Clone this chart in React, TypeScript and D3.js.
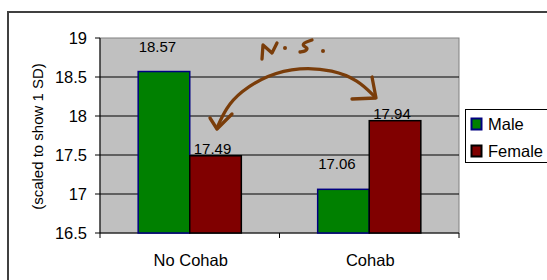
import React from "react";
import * as d3 from "d3";

// Data
const categories = ["No Cohab", "Cohab"];
const seriesNames = ["Male", "Female"];
const maleValues = [18.57, 17.06];
const femaleValues = [17.49, 17.94];
const yTicks = [16.5, 17, 17.5, 18, 18.5, 19];

const seriesColors = ["#008000", "#800000"];
const seriesStrokes = ["#000080", "#000000"];
// label nudges (Excel places them a bit oddly)
const labelDx = [-6.5, -3];
const labelDy = [-20, -2];

const font = "'Liberation Sans', Arial, sans-serif";

const App = () => {
  const width = 547;
  const height = 280;
  const plot = { left: 100, top: 38, right: 459, bottom: 233 };

  const x0 = d3.scaleBand().domain(categories).range([plot.left, plot.right]);
  const x1 = d3
    .scaleBand()
    .domain(seriesNames)
    .range([0, x0.bandwidth()])
    .paddingOuter(0.74)
    .paddingInner(0);
  const y = d3.scaleLinear().domain([16.5, 19]).range([plot.bottom, plot.top]);

  const series = [maleValues, femaleValues];

  // hand drawn arrow & "N.S."
  const curve = d3.line().curve(d3.curveBasis);
  const arc: [number, number][] = [
    [217, 128], [226, 108], [240, 92], [267, 75], [300, 67], [333, 70], [358, 80], [375, 97],
  ];
  const leftHead: [number, number][] = [[210, 118], [217, 129], [232, 114]];
  const rightHead: [number, number][] = [[372, 77], [376, 98], [352, 99]];
  const nStroke: [number, number][] = [[262, 59], [263, 45], [272, 53], [277, 43]];
  const sStroke: [number, number][] = [[312, 40], [303, 43], [303, 46], [308, 48], [306, 51], [300, 52]];
  const brown = "#7a3d0a";

  return (
    <svg
      width={width}
      height={height}
      style={{ position: "absolute", left: 0, top: 0, background: "#fff" }}
      fontFamily={font}
    >
      <rect x={8} y={12} width={width} height={height} fill="#fff" stroke="#404040" strokeWidth={2} />
      <rect
        x={plot.left}
        y={plot.top}
        width={plot.right - plot.left}
        height={plot.bottom - plot.top}
        fill="#c0c0c0"
        stroke="#808080"
        strokeWidth={1}
      />
      {yTicks.slice(1, -1).map((t) => (
        <line key={t} x1={plot.left} x2={plot.right} y1={y(t)} y2={y(t)} stroke="#000" strokeWidth={1} />
      ))}
      {/* y axis */}
      <line x1={plot.left} x2={plot.left} y1={plot.top} y2={plot.bottom} stroke="#000" />
      {yTicks.map((t) => (
        <g key={t}>
          <line x1={plot.left - 5} x2={plot.left} y1={y(t)} y2={y(t)} stroke="#000" />
          <text x={87} y={y(t) + 6} textAnchor="end" fontSize={16.5}>
            {t}
          </text>
        </g>
      ))}
      <text
        transform={`translate(43,${(plot.top + plot.bottom) / 2 + 1}) rotate(-90)`}
        textAnchor="middle"
        fontSize={15}
      >
        (scaled to show 1 SD)
      </text>
      {/* x axis */}
      <line x1={plot.left} x2={plot.right} y1={plot.bottom} y2={plot.bottom} stroke="#000" />
      {[plot.left, plot.left + x0.bandwidth(), plot.right].map((px) => (
        <line key={px} x1={px} x2={px} y1={plot.bottom} y2={plot.bottom + 5} stroke="#000" />
      ))}
      {categories.map((c) => (
        <text key={c} x={x0(c)! + x0.bandwidth() / 2 + 1} y={266} textAnchor="middle" fontSize={16.5}>
          {c}
        </text>
      ))}
      {/* bars */}
      {categories.map((c, ci) =>
        seriesNames.map((s, si) => {
          const v = series[si][ci];
          const bx = x0(c)! + x1(s)!;
          return (
            <rect
              key={c + s}
              x={bx}
              y={y(v)}
              width={x1.bandwidth()}
              height={plot.bottom - y(v)}
              fill={seriesColors[si]}
              stroke={seriesStrokes[si]}
              strokeWidth={1.5}
            />
          );
        })
      )}
      {categories.map((c, ci) =>
        seriesNames.map((s, si) => {
          const v = series[si][ci];
          const bx = x0(c)! + x1(s)! + x1.bandwidth() / 2;
          return (
            <text
              key={"l" + c + s}
              x={bx + labelDx[si]}
              y={y(v) + labelDy[si]}
              textAnchor="middle"
              fontSize={15}
            >
              {v.toFixed(2)}
            </text>
          );
        })
      )}
      {/* legend */}
      <rect x={465.5} y={109.5} width={100} height={53} fill="#fff" stroke="#000" strokeWidth={1} />
      {seriesNames.map((s, si) => (
        <g key={s} transform={`translate(471,${118 + si * 27})`}>
          <rect x={0.5} y={0.5} width={10} height={11} fill={seriesColors[si]} stroke={seriesStrokes[si]} strokeWidth={2} />
          <text x={17} y={11.5} fontSize={16.5}>
            {s}
          </text>
        </g>
      ))}
      {/* hand-drawn annotation */}
      <g fill="none" stroke={brown} strokeWidth={3.3} strokeLinecap="round" strokeLinejoin="round">
        <path d={curve(arc)!} />
        <path d={d3.line()(leftHead)!} />
        <path d={d3.line()(rightHead)!} />
        <path d={d3.line()(nStroke)!} />
        <path d={curve(sStroke)!} />
      </g>
      <circle cx={285} cy={48} r={2} fill={brown} />
      <circle cx={323} cy={51} r={2} fill={brown} />
    </svg>
  );
};

export default App;
